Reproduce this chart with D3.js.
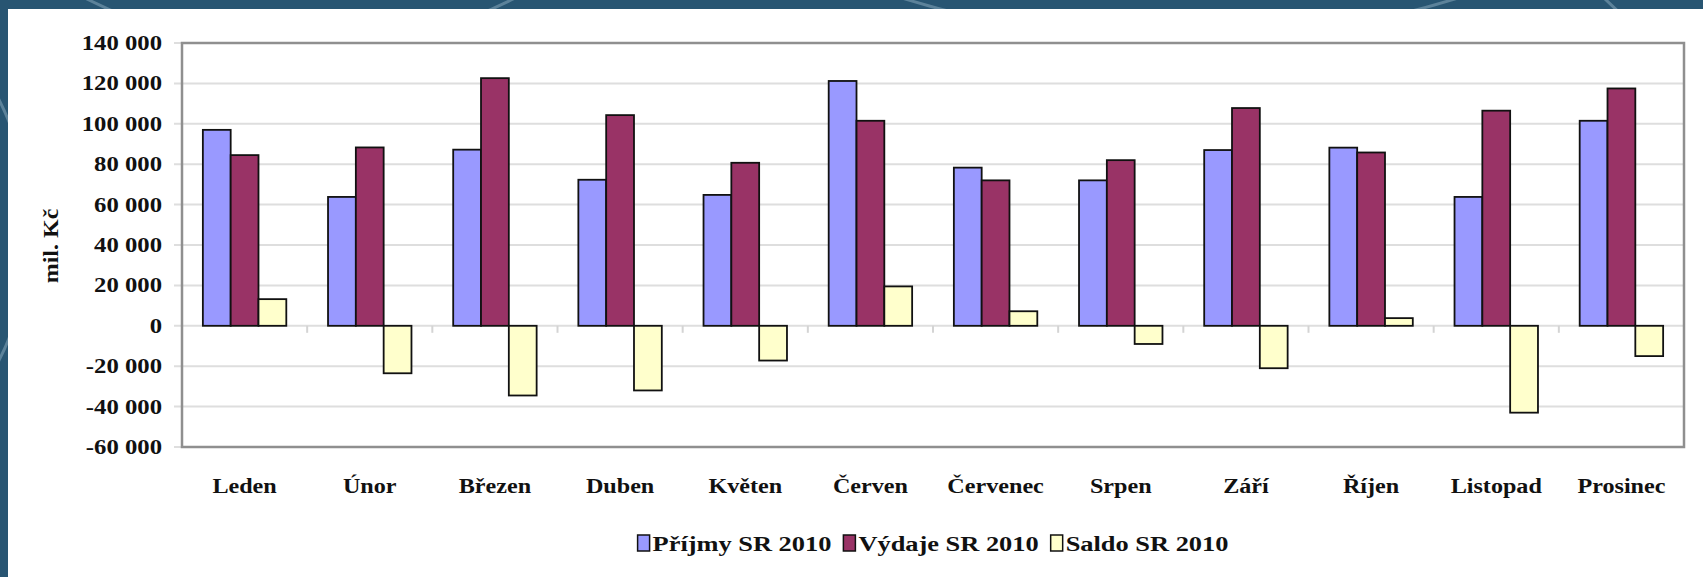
<!DOCTYPE html>
<html lang="cs">
<head>
    <meta charset="UTF-8" />
    <title>Příjmy a výdaje SR 2010</title>
    <script src="https://d3js.org/d3.v7.min.js"></script>
    <style>
        body {
            margin: 0;
            background: #285572;
        }
        svg {
            display: block;
        }
        text {
            font-family: "Liberation Serif", "Times New Roman", serif;
            font-weight: bold;
            fill: #111;
        }
    </style>
</head>
<body>
    <svg id="chart"></svg>

    <script>
        // months and series (mil. Kč)
        const months = ["Leden", "Únor", "Březen", "Duben", "Květen", "Červen",
                        "Červenec", "Srpen", "Září", "Říjen", "Listopad", "Prosinec"];
        const prijmy = [97000, 63800, 87200, 72300, 64800, 121200, 78300, 72000, 87000, 88200, 63800, 101500];
        const vydaje = [84500, 88300, 122600, 104300, 80700, 101500, 72000, 82000, 107800, 85800, 106500, 117500];
        const saldo  = [13200, -23500, -34500, -32000, -17200, 19500, 7200, -9000, -21000, 3800, -43000, -15000];
        const seriesNames = ["Příjmy SR 2010", "Výdaje SR 2010", "Saldo SR 2010"];
        const seriesColors = ["#9999ff", "#993366", "#ffffcc"];
        const yTicks = [-60000, -40000, -20000, 0, 20000, 40000, 60000, 80000, 100000, 120000, 140000];

        const W = 1703, H = 577;
        const plot = { left: 182, right: 1684, top: 43, bottom: 447 };
        const stretch = 1.15;   // the original lettering is a little wide

        const svg = d3.select("#chart").attr("width", W).attr("height", H);

        // dark backdrop with a few faint arcs, then the white sheet
        svg.append("rect").attr("width", W).attr("height", H).attr("fill", "#285572");
        const arcs = [[300, -420, 470], [1180, -900, 940], [1900, -300, 420], [-260, 230, 290]];
        svg.append("g").selectAll("circle").data(arcs).join("circle")
            .attr("cx", d => d[0]).attr("cy", d => d[1]).attr("r", d => d[2])
            .attr("fill", "none").attr("stroke", "rgba(190,215,230,0.35)").attr("stroke-width", 3);
        svg.append("rect").attr("x", 8).attr("y", 9).attr("width", W - 8).attr("height", H - 9)
            .attr("fill", "#ffffff");

        const fmt = v => d3.format(",")(v).replace(/,/g, " ").replace("−", "-");

        const y = d3.scaleLinear().domain([-60000, 140000]).range([plot.bottom, plot.top]);
        const x0 = d3.scaleBand().domain(months).range([plot.left, plot.right]).padding(0);
        const x1 = d3.scaleBand().domain(seriesNames).range([0, x0.bandwidth()])
            .paddingInner(0).paddingOuter(0.75);

        // helper for stretched text
        function label(g, txt, x, yy, anchor, size, rot, sx) {
            return g.append("text")
                .attr("transform", `translate(${x},${yy})` + (rot ? ` rotate(${rot})` : "") + ` scale(${sx || stretch},1)`)
                .attr("text-anchor", anchor)
                .style("font-size", size + "px")
                .text(txt);
        }

        // gridlines
        const grid = svg.append("g");
        grid.selectAll("line").data(yTicks).join("line")
            .attr("x1", plot.left - 8).attr("x2", plot.right)
            .attr("y1", d => y(d)).attr("y2", d => y(d))
            .attr("stroke", "#dedede").attr("stroke-width", 2);

        // small ticks under the zero line between months
        svg.append("g").selectAll("line").data(months.slice(1)).join("line")
            .attr("x1", d => x0(d)).attr("x2", d => x0(d))
            .attr("y1", y(0)).attr("y2", y(0) + 7)
            .attr("stroke", "#d4d4d4").attr("stroke-width", 2);

        // bars
        const rows = months.map((m, i) => ({ month: m, values: [prijmy[i], vydaje[i], saldo[i]] }));
        const groups = svg.append("g").selectAll("g").data(rows).join("g")
            .attr("transform", d => `translate(${x0(d.month)},0)`);
        groups.selectAll("rect")
            .data(d => d.values.map((v, k) => ({ v, k })))
            .join("rect")
            .attr("x", d => x1(seriesNames[d.k]))
            .attr("width", x1.bandwidth())
            .attr("y", d => y(Math.max(0, d.v)))
            .attr("height", d => Math.abs(y(d.v) - y(0)))
            .attr("fill", d => seriesColors[d.k])
            .attr("stroke", "#111")
            .attr("stroke-width", 1.8);

        // frame
        svg.append("rect")
            .attr("x", plot.left).attr("y", plot.top)
            .attr("width", plot.right - plot.left).attr("height", plot.bottom - plot.top)
            .attr("fill", "none").attr("stroke", "#8f8f8f").attr("stroke-width", 2.5);

        // y tick labels
        const yl = svg.append("g");
        yTicks.forEach(t => label(yl, fmt(t), 162, y(t) + 7, "end", 21.5));

        // axis title
        label(svg, "mil. Kč", 58, 246, "middle", 20, -90, 1.2);

        // month labels
        const xl = svg.append("g");
        months.forEach(m => label(xl, m, x0(m) + x0.bandwidth() / 2, 493, "middle", 21));

        // legend
        const legend = svg.append("g");
        const sq = 12, gapText = 3, gapItem = 12;
        let lx = 0;
        seriesNames.forEach((name, k) => {
            const g = legend.append("g");
            g.append("rect").attr("x", 0).attr("y", -9).attr("width", sq).attr("height", 16)
                .attr("fill", seriesColors[k]).attr("stroke", "#111").attr("stroke-width", 1.5);
            const t = label(g, name, sq + gapText, 7, "start", 22, 0, 1.2);
            const w = t.node().getComputedTextLength() * 1.2;
            g.attr("transform", `translate(${lx},0)`);
            lx += sq + gapText + w + gapItem;
        });
        const total = lx - gapItem;
        legend.attr("transform", `translate(${(plot.left + plot.right) / 2 - total / 2},544)`);
    </script>
</body>
</html>
